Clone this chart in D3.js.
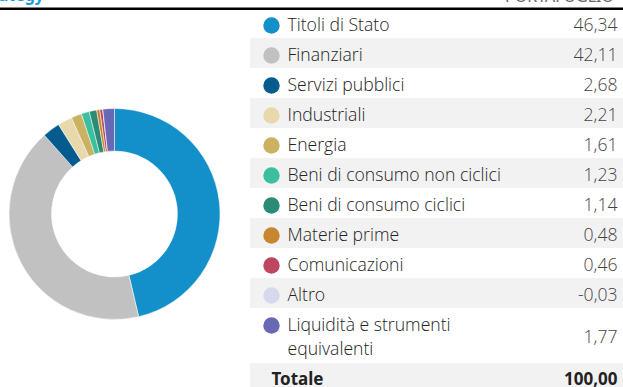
<!DOCTYPE html>
<html>
<head>
<meta charset="utf-8">
<script src="https://cdn.jsdelivr.net/npm/d3@7"></script>
<style>
  html, body { margin: 0; padding: 0; background: #fff; }
  svg { display: block; }
</style>
</head>
<body>
<svg id="chart" width="623" height="387"></svg>
<script>
// Sector allocation (%)
const sectors = [
  "Titoli di Stato",
  "Finanziari",
  "Servizi pubblici",
  "Industriali",
  "Energia",
  "Beni di consumo non ciclici",
  "Beni di consumo ciclici",
  "Materie prime",
  "Comunicazioni",
  "Altro",
  "Liquidità e strumenti equivalenti"
];
const weights = [46.34, 42.11, 2.68, 2.21, 1.61, 1.23, 1.14, 0.48, 0.46, -0.03, 1.77];
const sectorColors = [
  "#138fc9", "#c1c1c1", "#035b8e", "#e7d9ab", "#cbb262", "#3bbf9f",
  "#2b8b74", "#c7862f", "#be4660", "#d6d9eb", "#6869b5"
];
const totalLabel = "Totale";
const titleLeft = "Strategy";
const titleRight = "PORTAFOGLIO";

// Italian number style: comma decimals, plain hyphen for negatives
const itLocale = d3.formatLocale({ decimal: ",", thousands: ".", grouping: [3], currency: ["", " €"], minus: "-" });
const fmt = itLocale.format(".2f");
const svg = d3.select("#chart");
const W = 623;
const FONT = "'Open Sans', 'Noto Sans', sans-serif";
const BOLD = "'Noto Sans', sans-serif";

// header fragment and rule
svg.append("text").attr("x", 44).attr("y", 1).attr("text-anchor", "end")
  .attr("font-family", BOLD).attr("font-weight", 700).attr("font-size", 16)
  .attr("fill", "#1a9ad6").text(titleLeft);
svg.append("text").attr("x", 614).attr("y", 1.5).attr("text-anchor", "end")
  .attr("font-family", BOLD).attr("font-weight", 400).attr("font-size", 16)
  .attr("fill", "#666").text(titleRight);

// donut
const data = sectors.map((s, i) => ({ name: s, value: weights[i], color: sectorColors[i] }));
const pie = d3.pie().sort(null).value(d => Math.max(0, d.value));
const arc = d3.arc().innerRadius(63).outerRadius(105.5);
const g = svg.append("g").attr("transform", "translate(114.5,214)");
g.selectAll("path").data(pie(data)).join("path")
  .attr("d", arc)
  .attr("fill", d => d.data.color)
  .attr("stroke", "#fff")
  .attr("stroke-width", 0.5);

// table
const tableX = 250;
const rowH = 30;
const top0 = 8;
const rows = data.map((d, i) => ({ ...d, lines: i === 10 ? ["Liquidità e strumenti", "equivalenti"] : [d.name] }));
let y = top0;
const t = svg.append("g");
rows.forEach((r, i) => {
  const h = r.lines.length > 1 ? 55 : rowH;
  if (i % 2 === 1) {
    t.append("rect").attr("x", tableX).attr("y", y).attr("width", W - tableX).attr("height", h).attr("fill", "#f2f2f2");
  }
  t.append("circle").attr("cx", 271.5).attr("cy", y + 17.5).attr("r", 8.2).attr("fill", r.color);
  r.lines.forEach((ln, k) => {
    t.append("text").attr("x", 287.5).attr("y", y + 22.7 + k * 24)
      .attr("font-family", FONT).attr("font-weight", 300).attr("font-size", 17.6)
      .attr("fill", "#222").text(ln);
  });
  t.append("text").attr("x", 617.5).attr("y", y + (r.lines.length > 1 ? 34.5 : 22.7))
    .attr("text-anchor", "end")
    .attr("font-family", FONT).attr("font-weight", 300).attr("font-size", 17.6)
    .attr("fill", "#444").text(fmt(r.value));
  y += h;
});
// total row
const total = d3.sum(weights);
t.append("rect").attr("x", tableX).attr("y", y).attr("width", W - tableX).attr("height", rowH).attr("fill", "#f2f2f2");
t.append("text").attr("x", 271.5).attr("y", y + 22)
  .attr("font-family", BOLD).attr("font-weight", 700).attr("font-size", 17)
  .attr("fill", "#222").text(totalLabel);
t.append("text").attr("x", 617.5).attr("y", y + 22).attr("text-anchor", "end")
  .attr("font-family", BOLD).attr("font-weight", 700).attr("font-size", 17)
  .attr("fill", "#222").text(fmt(total));

svg.append("rect").attr("x", 0).attr("y", 7.5).attr("width", W).attr("height", 2.5).attr("fill", "#000");
</script>
</body>
</html>
